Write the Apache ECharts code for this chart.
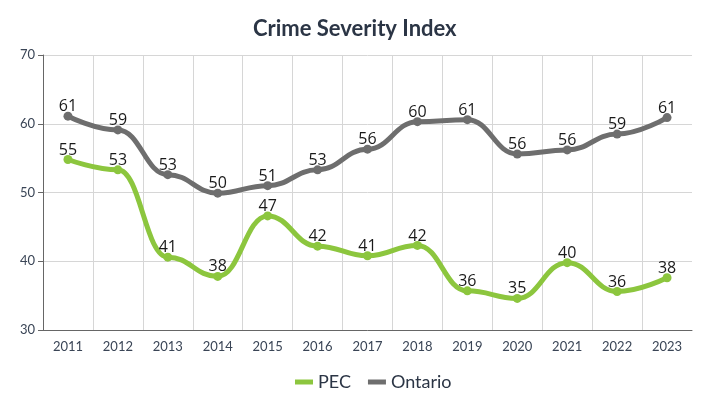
<!DOCTYPE html>
<html><head><meta charset="utf-8">
<script src="https://cdn.jsdelivr.net/npm/echarts@6/dist/echarts.min.js"></script>
<style>html,body{margin:0;padding:0;background:#fff}#c{width:720px;height:406px}</style>
</head><body><div id="c"></div>
<script>
const years = ['2011','2012','2013','2014','2015','2016','2017','2018','2019','2020','2021','2022','2023'];
const pec = [54.8, 53.3, 40.6, 37.8, 46.6, 42.2, 40.8, 42.3, 35.7, 34.6, 39.8, 35.6, 37.6];
const ontario = [61.1, 59.1, 52.6, 49.9, 51.0, 53.3, 56.3, 60.3, 60.6, 55.6, 56.2, 58.5, 60.9];
const yTicks = [30, 40, 50, 60, 70];

const chart = echarts.init(document.getElementById('c'), null, {renderer:'canvas'});
const label = {show:true, position:'top', distance:-3, color:'#1a1a1a', fontFamily:'Open Sans', fontSize:16,
  formatter: p => Math.round(p.value)};
chart.setOption({
  animation:false,
  title:{text:'Crime Severity Index', left:248, top:13,
    textStyle:{fontFamily:'Lato', fontWeight:'bold', fontSize:22, color:'#2b3545'}},
  legend:{bottom:10, left:290, itemWidth:18, itemHeight:5, itemGap:17,
    icon:'rect',
    textStyle:{fontFamily:'Lato', fontSize:18, color:'#2b3545'},
    data:['PEC','Ontario']},
  grid:{left:43, right:28, top:55, bottom:76},
  xAxis:{type:'category', data:years, boundaryGap:true,
    axisLine:{lineStyle:{color:'#666', width:1}},
    axisTick:{alignWithLabel:true, length:5, lineStyle:{color:'#666'}},
    axisLabel:{fontFamily:'Lato', fontSize:13, color:'#3a4556', margin:10},
    splitLine:{show:true, showMinLine:false, showMaxLine:false, lineStyle:{color:'#d6d6d6'}}},
  yAxis:{type:'value', min:yTicks[0], max:yTicks[yTicks.length-1], interval:10,
    axisLine:{show:true, lineStyle:{color:'#666'}},
    axisTick:{show:true, length:5, lineStyle:{color:'#666'}},
    axisLabel:{fontFamily:'Lato', fontSize:13, color:'#3a4556', margin:8},
    splitLine:{lineStyle:{color:'#d6d6d6'}}},
  series:[
    {name:'PEC', type:'line', data:pec, smooth:0.45, smoothMonotone:'x', symbol:'circle', symbolSize:9,
      itemStyle:{color:'#8cc63e'}, lineStyle:{width:5, color:'#8cc63e'}, label:label},
    {name:'Ontario', type:'line', data:ontario, smooth:0.45, smoothMonotone:'x', symbol:'circle', symbolSize:9,
      itemStyle:{color:'#6e6e6e'}, lineStyle:{width:5, color:'#6e6e6e'}, label:label}
  ]
});
</script></body></html>
